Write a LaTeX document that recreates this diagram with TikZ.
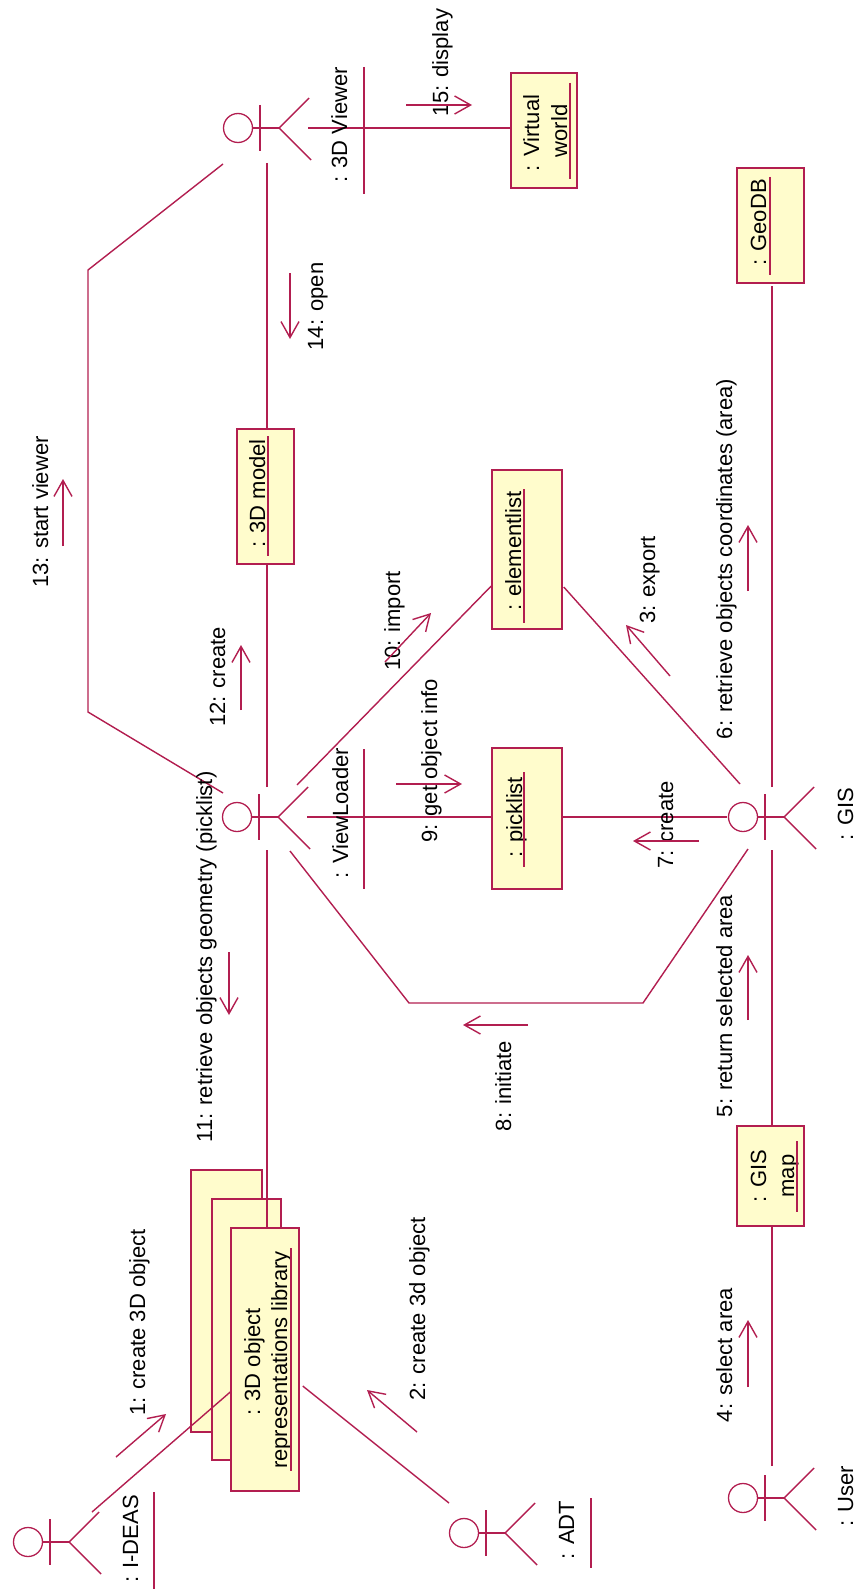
\documentclass[tikz,border=0pt]{standalone}
\usepackage{fontspec}
\setmainfont{Liberation Sans}
\usetikzlibrary{arrows.meta}

\definecolor{rose}{RGB}{178,30,80}
\definecolor{paper}{RGB}{255,252,204}

% stick figure: name, x, y of the head
\newcommand{\actorfig}[3]{%
  \node[head] at (#2,#3) (#1) {};
  \draw[link] (#1.east) -- ++(26,0) coordinate (#1hip);
  \draw[link] (#1hip) ++(-19,-23) -- ++(0,46);
  \draw[link] (#1hip) ++(30,-30) -- (#1hip) -- ++(32,32);
}

\begin{document}
\begin{tikzpicture}[
  x=1pt, y=-1pt,
  box/.style={draw=rose, fill=paper, line width=1.5pt, inner sep=0pt},
  head/.style={draw=rose, circle, line width=1.3pt, minimum size=29pt, inner sep=0pt},
  link/.style={draw=rose, line width=1.4pt},
  msg/.style={draw=rose, line width=1.4pt, -{Straight Barb[length=16pt,width=18pt]}},
  lbl/.style={rotate=90, anchor=base, inner sep=0pt, font=\fontsize{22}{28}\selectfont}
]
\useasboundingbox (0,0) rectangle (867,1589);

% Objects
\node[box, minimum width=71pt, minimum height=262pt] at (226.5,1301) (stackc) {};
\node[box, minimum width=69pt, minimum height=261pt] at (246.5,1329.5) (stackb) {};
\node[box, minimum width=68pt, minimum height=263pt] at (265,1359.5) (stacka) {};
\node[box, minimum width=57pt, minimum height=135pt] at (265.5,496.5) (model) {};
\node[box, minimum width=66pt, minimum height=115pt] at (544,130.5) (world) {};
\node[box, minimum width=70pt, minimum height=141pt] at (527,818.5) (picklist) {};
\node[box, minimum width=70pt, minimum height=159pt] at (527,549.5) (elements) {};
\node[box, minimum width=67pt, minimum height=115pt] at (770.5,225.5) (geodb) {};
\node[box, minimum width=67pt, minimum height=100pt] at (770.5,1176) (gismap) {};

% Actors
\actorfig{ideas}{28}{1542}
\actorfig{adt}{464}{1533}
\actorfig{loader}{237}{817}
\actorfig{viewer}{238}{128}
\actorfig{gis}{743}{817}
\actorfig{user}{743}{1498}

% Bends
\coordinate (startlow) at (88,712);
\coordinate (starthigh) at (88,270);
\coordinate (initlow) at (643,1003);
\coordinate (inithigh) at (409,1003);

% Links
\draw[link] ([shift={(64,-30)}]ideas.center) -- ([shift={(0,32.5)}]stacka.west);
\draw[link] ([shift={(-15,-30)}]adt.center) -- ([shift={(3,26.5)}]stacka.east);
\draw[link] ([shift={(30,33)}]loader.center) -- ([shift={(2,0)}]stacka.north);
\draw[link] ([shift={(30,-30)}]loader.center) -- ([shift={(1.5,0)}]model.south);
\draw[link] ([shift={(29,35)}]viewer.center) -- ([shift={(1.5,0)}]model.north);
\draw[link] ([shift={(70,0)}]viewer.center) -- ([shift={(0,-2.5)}]world.west);
\draw[link] ([shift={(70,0)}]loader.center) -- ([shift={(0,-1.5)}]picklist.west);
\draw[link] ([shift={(-16,0)}]gis.center) -- ([shift={(0,-1.5)}]picklist.east);
\draw[link] ([shift={(60,-32)}]loader.center) -- ([shift={(0,36.5)}]elements.west);
\draw[link] ([shift={(-3,-33)}]gis.center) -- ([shift={(1,37.5)}]elements.east);
\draw[link] ([shift={(29,-30)}]gis.center) -- ([shift={(1.5,2)}]geodb.south);
\draw[link] ([shift={(29,33)}]gis.center) -- ([shift={(1.5,0)}]gismap.north);
\draw[link] ([shift={(29,-32)}]user.center) -- ([shift={(1.5,0)}]gismap.south);
\draw[link] ([shift={(-14,-24)}]loader.center) -- (startlow) -- (starthigh) -- ([shift={(-15,36)}]viewer.center);
\draw[link] ([shift={(5,32)}]gis.center) -- (initlow) -- (inithigh) -- ([shift={(53,34)}]loader.center);

% Names under the figures and in the boxes
\node[lbl] at (138,1539) (ideaslbl) {: I-DEAS};
\node[lbl] at (574,1530) (adtlbl) {: ADT};
\node[lbl] at (348,813) (loaderlbl) {: ViewLoader};
\node[lbl] at (347,125) (viewerlbl) {: 3D Viewer};
\node[lbl] at (853,814) (gislbl) {: GIS};
\node[lbl] at (853,1496) (userlbl) {: User};
\node[lbl] at (260,1362) (stacklbla) {: 3D object};
\node[lbl] at (287,1360) (stacklblb) {representations library};
\node[lbl] at (265,493.5) (modellbl) {: 3D model};
\node[lbl] at (539,133) (worldlbla) {: Virtual};
\node[lbl] at (567,131) (worldlblb) {world};
\node[lbl] at (522,817) (picklistlbl) {: picklist};
\node[lbl] at (521,551) (elementslbl) {: elementlist};
\node[lbl] at (766,222.5) (geodblbl) {: GeoDB};
\node[lbl] at (766,1176) (gismaplbla) {: GIS};
\node[lbl] at (794,1176) (gismaplblb) {map};

% Underlines
\draw[link] (154,1492) -- (154,1589);
\draw[link] (591,1498) -- (591,1568);
\draw[link] (364,749) -- (364,889);
\draw[link] (364,67) -- (364,194);
\draw[link] (291,1248) -- (291,1471);
\draw[link] (268,436) -- (268,556);
\draw[link] (570,83) -- (570,179);
\draw[link] (524,772) -- (524,867);
\draw[link] (524,489) -- (524,623);
\draw[link] (770,177) -- (770,275);
\draw[link] (797,1141) -- (797,1212);

% Message texts
\node[lbl] at (145,1322.5) (txta) {1: create 3D object};
\node[lbl] at (425,1309) (txtb) {2: create 3d object};
\node[lbl] at (655,580) (txtc) {3: export};
\node[lbl] at (732,1355) (txtd) {4: select area};
\node[lbl] at (732,1006) (txte) {5: return selected area};
\node[lbl] at (732,559) (txtf) {6: retrieve objects coordinates (area)};
\node[lbl] at (673,825) (txtg) {7: create};
\node[lbl] at (511,1086) (txth) {8: initiate};
\node[lbl] at (437,761) (txti) {9: get object info};
\node[lbl] at (400,621) (txtj) {10: import};
\node[lbl] at (212,957) (txtk) {11: retrieve objects geometry (picklist)};
\node[lbl] at (225,677) (txtl) {12: create};
\node[lbl] at (48,512) (txtm) {13: start viewer};
\node[lbl] at (323,306.5) (txtn) {14: open};
\node[lbl] at (448,62.5) (txto) {15: display};

% Message arrows
\coordinate (fromA) at (116,1457);  \coordinate (toA) at (166,1414);
\coordinate (fromB) at (417,1432);  \coordinate (toB) at (367,1390);
\coordinate (fromC) at (670,676);   \coordinate (toC) at (626,625);
\coordinate (fromD) at (748,1387);  \coordinate (toD) at (748,1320);
\coordinate (fromE) at (748,1020);  \coordinate (toE) at (748,955);
\coordinate (fromF) at (748,591);   \coordinate (toF) at (748,525);
\coordinate (fromG) at (699,841);   \coordinate (toG) at (633,841);
\coordinate (fromH) at (528,1025);  \coordinate (toH) at (463,1025);
\coordinate (fromI) at (396,784);   \coordinate (toI) at (462,784);
\coordinate (fromJ) at (385,662);   \coordinate (toJ) at (431,613);
\coordinate (fromK) at (229,952);   \coordinate (toK) at (229,1015);
\coordinate (fromL) at (241,710);   \coordinate (toL) at (241,645);
\coordinate (fromM) at (63,546);    \coordinate (toM) at (63,479);
\coordinate (fromN) at (290,273);   \coordinate (toN) at (290,339);
\coordinate (fromO) at (406,105);   \coordinate (toO) at (472,105);
\draw[msg] (fromA) -- (toA);
\draw[msg] (fromB) -- (toB);
\draw[msg] (fromC) -- (toC);
\draw[msg] (fromD) -- (toD);
\draw[msg] (fromE) -- (toE);
\draw[msg] (fromF) -- (toF);
\draw[msg] (fromG) -- (toG);
\draw[msg] (fromH) -- (toH);
\draw[msg] (fromI) -- (toI);
\draw[msg] (fromJ) -- (toJ);
\draw[msg] (fromK) -- (toK);
\draw[msg] (fromL) -- (toL);
\draw[msg] (fromM) -- (toM);
\draw[msg] (fromN) -- (toN);
\draw[msg] (fromO) -- (toO);

\end{tikzpicture}
\end{document}
